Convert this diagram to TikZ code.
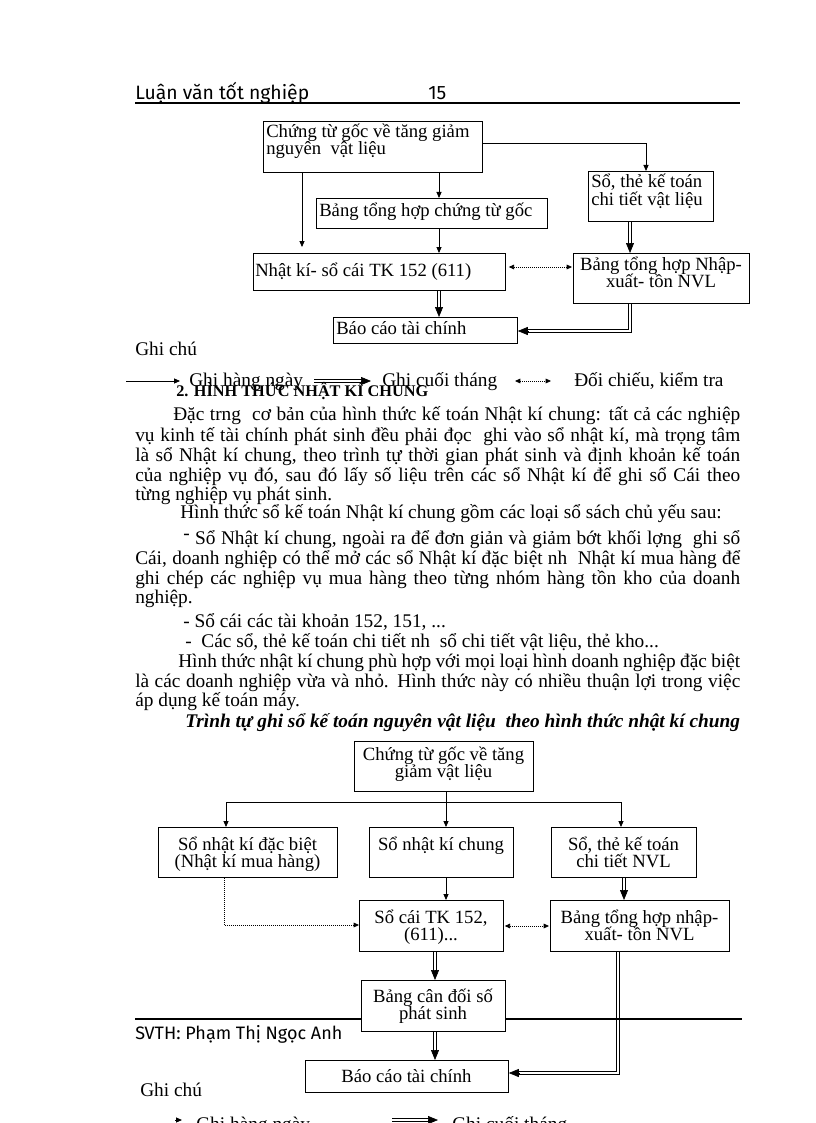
\documentclass[tikz,border=0pt]{standalone}
\usepackage{fontspec}
\setmainfont{Liberation Serif}
\newfontfamily\hdfont{Fira Sans}
\usetikzlibrary{arrows.meta,calc}

\tikzset{
  box/.style={draw, line width=0.6pt, fill=white, inner sep=0pt, anchor=north west},
  ltxt/.style={inner sep=0pt, anchor=base west, font=\fontsize{14}{16}\selectfont},
  ctxt/.style={ltxt, anchor=base},
  ptxt/.style={inner sep=0pt, anchor=base west, font=\fontsize{14.5}{16}\selectfont},
  hdtxt/.style={inner sep=0pt, anchor=base west, font=\hdfont\fontsize{14.5}{16}\selectfont},
  arr/.style={line width=0.6pt, -{Triangle[length=4.5pt,width=3.8pt]}},
  dline/.style={line width=0.5pt, double, double distance=1.3pt, shorten >=5pt},
  dtip/.style={line width=0.5pt, -{Triangle[length=7.5pt,width=6pt]}},
  dots/.style={line width=0.6pt, dash pattern=on 0.6pt off 0.9pt, {Triangle[length=4pt,width=3.5pt]}-{Triangle[length=4pt,width=3.5pt]}},
  dots1/.style={line width=0.6pt, dash pattern=on 0.6pt off 0.9pt, -{Triangle[length=4pt,width=3.5pt]}},
  rule/.style={line width=1.1pt}
}

\begin{document}
\begin{tikzpicture}[x=0.75pt, y=-0.75pt]
  \useasboundingbox (0,0) rectangle (816,1123);
  \clip (0,0) rectangle (816,1123);
  \fill[white] (0,0) rectangle (816,1123);

  % --- Header ---
  \node[hdtxt] (luanvan) at (135,100) {Luận văn tốt nghiệp};
  \node[hdtxt] (trang) at (428,100) {15};
  \coordinate (hdl) at (135,103);
  \coordinate (hdr) at (740,103);
  \draw[rule] (hdl) -- (hdr);

  % --- So do 1: Nhat ki - so cai ---
  \node[box, minimum width=164.25pt, minimum height=38.25pt] (cgoc) at (263,121) {};
  \node[box, minimum width=93.75pt, minimum height=37.5pt] (ctiet) at (588,171) {};
  \node[box, minimum width=173.25pt, minimum height=22.5pt] (bthop) at (316,198) {};
  \node[box, minimum width=189pt, minimum height=27.75pt] (nkso) at (253,253) {};
  \node[box, minimum width=132pt, minimum height=37.5pt] (bnxt) at (573,253) {};
  \node[box, minimum width=138pt, minimum height=19.5pt] (bctc) at (333,317) {};

  \node[ltxt] (cgoc-a) at (266,138) {Chứng từ gốc về tăng giảm};
  \node[ltxt] (cgoc-b) at (266,155) {nguyên\ \ vật liệu};
  \node[ltxt] (ctiet-a) at (591,188) {Sổ, thẻ kế toán};
  \node[ltxt] (ctiet-b) at (591,205) {chi tiết vật liệu};
  \node[ltxt] (bthop-a) at (319,217) {Bảng tổng hợp chứng từ gốc};
  \node[ltxt] (nkso-a) at (255,276) {Nhật kí- sổ cái TK 152 (611)};
  \node[ctxt] (bnxt-a) at (661,270) {Bảng tổng hợp Nhập-};
  \node[ctxt] (bnxt-b) at (661,287) {xuất- tồn NVL};
  \node[ltxt] (bctc-a) at (336,334) {Báo cáo tài chính};

  % connectors
  \draw[arr] ($(cgoc.south west)+(39,0)$) -- ($(nkso.north west)+(49,-6)$);
  \draw[arr] ($(cgoc.south west)+(176,0)$) -- ($(bthop.north west)+(123,0)$);
  \draw[arr] ($(bthop.south west)+(123,0)$) -- ($(nkso.north west)+(186,0)$);
  \draw[arr] ($(cgoc.north east)+(0,22)$) -| ($(ctiet.north west)+(58,0)$);
  \coordinate (d1) at ($(bnxt.north west)+(57,0)$);
  \draw[dline] ($(ctiet.south west)+(42,0)$) -- (d1);
  \draw[dtip] ($(d1)+(0,-10)$) -- (d1);
  \coordinate (d2) at ($(bctc.north west)+(106,0)$);
  \draw[dline] ($(nkso.south west)+(186,0)$) -- (d2);
  \draw[dtip] ($(d2)+(0,-10)$) -- (d2);
  \coordinate (d3) at ($(bctc.north east)+(0,14)$);
  \draw[dline] ($(bnxt.south west)+(57,0)$) |- (d3);
  \draw[dtip] ($(d3)+(10,0)$) -- (d3);
  \draw[dots] ($(nkso.north east)+(3,14)$) -- ($(bnxt.north west)+(-1,14)$);

  % legend 1
  \node[ptxt] (ghichu) at (135,355) {Ghi chú};
  \coordinate (lg1a) at (126,381);
  \coordinate (lg1b) at (180,381);
  \draw[arr] (lg1a) -- (lg1b);
  \node[ptxt] (lghn) at (189,386) {Ghi hàng ngày};
  \coordinate (lg2a) at (314,381);
  \coordinate (lg2b) at (371,381);
  \draw[dline] (lg2a) -- (lg2b);
  \draw[dtip] ($(lg2b)+(-10,0)$) -- (lg2b);
  \node[ptxt] (lgct) at (382,386) {Ghi cuối tháng};
  \coordinate (lg3a) at (515,381);
  \coordinate (lg3b) at (551,381);
  \draw[dots] (lg3a) -- (lg3b);
  \node[ptxt] (lgdc) at (574,386) {Đối chiếu, kiểm tra};

  % --- Text ---
  \node[ptxt, font=\fontsize{12.2}{14}\selectfont\bfseries] (muc2) at (176,396) {2. HÌNH THỨC NHẬT KÍ CHUNG};
  \node[ptxt] (p1) at (173,420) {\makebox[425.25pt][s]{Đặc trng\ \ cơ bản của hình thức kế toán Nhật kí chung: tất cả các nghiệp}};
  \node[ptxt] (p2) at (135,441) {\makebox[453.75pt][s]{vụ kinh tế tài chính phát sinh đều phải đọc\ \ ghi vào sổ nhật kí, mà trọng tâm}};
  \node[ptxt] (p3) at (135,461) {\makebox[453.75pt][s]{là sổ Nhật kí chung, theo trình tự thời gian phát sinh và định khoản kế toán}};
  \node[ptxt] (p4) at (135,481) {\makebox[453.75pt][s]{của nghiệp vụ đó, sau đó lấy số liệu trên các sổ Nhật kí để ghi sổ Cái theo}};
  \node[ptxt] (p5) at (135,500) {từng nghiệp vụ phát sinh.};
  \node[ptxt] (p6) at (180,518) {Hình thức sổ kế toán Nhật kí chung gồm các loại sổ sách chủ yếu sau:};
  \node[ptxt] (p7) at (183,544) {\makebox[417.75pt][s]{\raisebox{.5ex}{-} Sổ Nhật kí chung, ngoài ra để đơn giản và giảm bớt khối lợng\ \ ghi sổ}};
  \node[ptxt] (p8) at (135,564) {\makebox[453.75pt][s]{Cái, doanh nghiệp có thể mở các sổ Nhật kí đặc biệt nh\ \ Nhật kí mua hàng để}};
  \node[ptxt] (p9) at (135,584) {\makebox[453.75pt][s]{ghi chép các nghiệp vụ mua hàng theo từng nhóm hàng tồn kho của doanh}};
  \node[ptxt] (p10) at (135,603) {nghiệp.};
  \node[ptxt] (p11) at (183,627) {- Sổ cái các tài khoản 152, 151, ...};
  \node[ptxt] (p12) at (185,647) {-\ \ Các sổ, thẻ kế toán chi tiết nh\ \ sổ chi tiết vật liệu, thẻ kho...};
  \node[ptxt] (p13) at (178,667) {\makebox[421.5pt][s]{Hình thức nhật kí chung phù hợp với mọi loại hình doanh nghiệp đặc biệt}};
  \node[ptxt] (p14) at (135,687) {\makebox[453.75pt][s]{là các doanh nghiệp vừa và nhỏ. Hình thức này có nhiều thuận lợi trong việc}};
  \node[ptxt] (p15) at (135,706) {áp dụng kế toán máy.};
  \node[ptxt, font=\fontsize{14.5}{16}\selectfont\bfseries\itshape] (p16) at (185,727) {Trình tự ghi sổ kế toán nguyên vật liệu\ \ theo hình thức nhật kí chung};

  % --- So do 2: Nhat ki chung ---
  \node[box, minimum width=134.25pt, minimum height=37.5pt] (ctgoc) at (354,741) {};
  \node[box, minimum width=134.25pt, minimum height=37.5pt] (nkdb) at (158,827) {};
  \node[box, minimum width=108pt, minimum height=37.5pt] (nkc) at (369,827) {};
  \node[box, minimum width=108.75pt, minimum height=37.5pt] (ctnvl) at (551,827) {};
  \node[box, minimum width=108pt, minimum height=38.25pt] (socai) at (359,900) {};
  \node[box, minimum width=134.25pt, minimum height=38.25pt] (thnxt) at (550,900) {};
  \node[box, minimum width=108pt, minimum height=38.25pt] (cdps) at (361,980) {};
  \node[box, minimum width=152.25pt, minimum height=24pt] (bctc2) at (305,1060) {};

  \node[ctxt] (ctgoc-a) at (443.5,760) {Chứng từ gốc về tăng};
  \node[ctxt] (ctgoc-b) at (443.5,777) {giảm vật liệu};
  \node[ctxt] (nkdb-a) at (247.5,850) {Sổ nhật kí đặc biệt};
  \node[ctxt] (nkdb-b) at (247.5,867) {(Nhật kí mua hàng)};
  \node[ctxt] (nkc-a) at (441,850) {Sổ nhật kí chung};
  \node[ctxt] (ctnvl-a) at (623.5,850) {Sổ, thẻ kế toán};
  \node[ctxt] (ctnvl-b) at (623.5,867) {chi tiết NVL};
  \node[ctxt] (socai-a) at (431,923) {Sổ cái TK 152,};
  \node[ctxt] (socai-b) at (431,940) {(611)...};
  \node[ctxt] (thnxt-a) at (639.5,923) {Bảng tổng hợp nhập-};
  \node[ctxt] (thnxt-b) at (639.5,940) {xuất- tồn NVL};
  \node[ctxt] (cdps-a) at (433,1002) {Bảng cân đối số};
  \node[ctxt] (cdps-b) at (433,1019) {phát sinh};
  \node[ctxt] (bctc2-a) at (406.5,1082) {Báo cáo tài chính};

  % connectors
  \coordinate (nhanh) at ($(ctgoc.south west)+(92,11)$);
  \draw[arr] ($(ctgoc.south west)+(92,0)$) -- ($(nkc.north west)+(77,0)$);
  \draw[arr] (nhanh) -| ($(nkdb.north west)+(68,0)$);
  \draw[arr] (nhanh) -| ($(ctnvl.north west)+(70,0)$);
  \draw[arr] ($(nkc.south west)+(77,0)$) -- ($(socai.north west)+(87,0)$);
  \coordinate (d4) at ($(thnxt.north west)+(74,0)$);
  \draw[dline] ($(ctnvl.south west)+(73,0)$) -- (d4);
  \draw[dtip] ($(d4)+(0,-10)$) -- (d4);
  \draw[dots1] ($(nkdb.south west)+(66,0)$) |- ($(socai.north west)+(0,25)$);
  \draw[dots] ($(socai.north east)+(1,26)$) -- ($(thnxt.north west)+(-1,26)$);
  \coordinate (d5) at ($(cdps.north west)+(74,0)$);
  \draw[dline] ($(socai.south west)+(76,0)$) -- (d5);
  \draw[dtip] ($(d5)+(0,-10)$) -- (d5);
  \coordinate (d6) at ($(bctc2.north west)+(130,0)$);
  \draw[dline] ($(cdps.south west)+(74,0)$) -- (d6);
  \draw[dtip] ($(d6)+(0,-10)$) -- (d6);
  \coordinate (d7) at ($(bctc2.north east)+(0,13)$);
  \draw[dline] ($(thnxt.south west)+(68,0)$) |- (d7);
  \draw[dtip] ($(d7)+(10,0)$) -- (d7);

  % --- Footer ---
  \coordinate (ftl) at (135,1019);
  \coordinate (ftr) at (742,1019);
  \draw[rule] (ftl) -- (ftl -| cdps.west);
  \draw[rule] (ftl -| cdps.east) -- (ftr);
  \node[hdtxt, font=\hdfont\fontsize{13.5}{15}\selectfont] (svth) at (135,1039) {SVTH: Phạm Thị Ngọc Anh};

  % legend 2
  \node[ptxt] (ghichu2) at (140,1096) {Ghi chú};
  \coordinate (lg4a) at (175,1120);
  \coordinate (lg4b) at (182,1120);
  \draw[arr] (lg4a) -- (lg4b);
  \node[ptxt] (lghn2) at (196,1130) {Ghi hàng ngày};
  \coordinate (lg5a) at (392,1120);
  \coordinate (lg5b) at (438,1120);
  \draw[dline] (lg5a) -- (lg5b);
  \draw[dtip] ($(lg5b)+(-10,0)$) -- (lg5b);
  \node[ptxt] (lgct2) at (452,1130) {Ghi cuối tháng};
\end{tikzpicture}
\end{document}
